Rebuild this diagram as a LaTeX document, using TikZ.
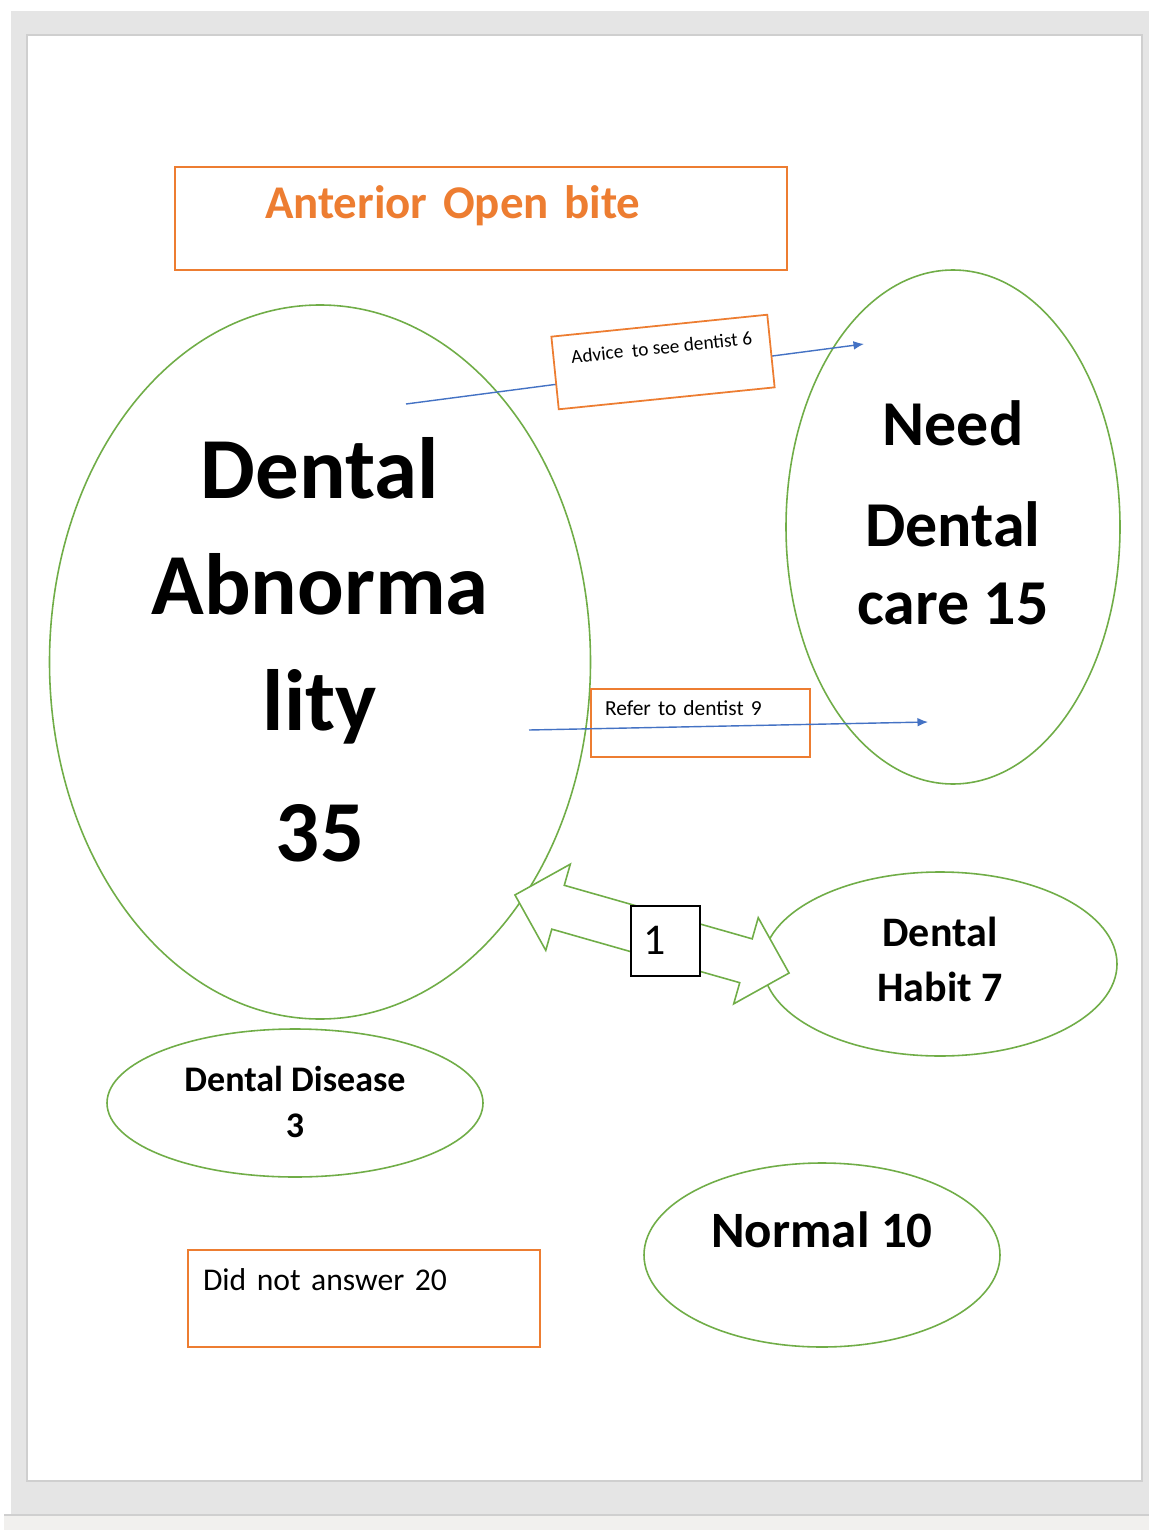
\documentclass[tikz,border=0pt]{standalone}
\usepackage{fontspec}
\setmainfont{Carlito}
\usetikzlibrary{shapes.geometric,shapes.arrows,arrows.meta}

\definecolor{boxorange}{HTML}{ED7D31}
\definecolor{ringgreen}{HTML}{70AD47}
\definecolor{linkblue}{HTML}{4472C4}
\definecolor{framegray}{HTML}{E5E5E5}
\definecolor{edgegray}{HTML}{CFCFCF}
\definecolor{stripgray}{HTML}{F1F0EE}

\newcommand{\pix}{0.02cm}

\tikzstyle{ring}=[ellipse, draw=ringgreen, line width=0.9pt, inner sep=0pt, align=center]
\tikzstyle{tag}=[rectangle, draw=boxorange, line width=1pt, align=left, inner ysep=0pt]
\tikzstyle{link}=[draw=linkblue, line width=0.8pt, -{Latex[length=6pt,width=5pt]}]

\begin{document}
\begin{tikzpicture}[x=\pix, y=-\pix]
            \useasboundingbox (0,0) rectangle (1149,1530);
            \fill[framegray] (11,11) rectangle (1149,1515);
            \fill[stripgray] (4,1515) rectangle (1149,1530);
            \draw[edgegray, line width=1pt] (4,1515) -- (1149,1515);
            \draw[edgegray, fill=white, line width=1.1pt] (27,35) rectangle (1142,1481);

            % multi-line texts sit on their last baseline
            \node[ring, minimum width=541*\pix, minimum height=714*\pix,
                  font=\fontsize{49.5}{66}\selectfont\bfseries,
                  text height=241.3pt, text depth=13.7pt] at (320,662) (abnormal)
                  {Dental\\Abnorma\\lity\\[9pt]35};
            \node[ring, minimum width=334*\pix, minimum height=514*\pix,
                  font=\fontsize{36.4}{51.2}\selectfont\bfseries,
                  text height=128pt, text depth=16.5pt] at (953,527) (care)
                  {Need\\[6.8pt]Dental\\[-6.8pt]care 15};
            \node[ring, minimum width=354*\pix, minimum height=184*\pix,
                  font=\fontsize{23.9}{31.3}\selectfont\bfseries,
                  text height=47.8pt, text depth=4.6pt] at (940,964) (habit)
                  {Dental\\Habit 7};
            \node[ring, minimum width=376*\pix, minimum height=148*\pix,
                  font=\fontsize{20.5}{26.2}\selectfont\bfseries,
                  text height=40.4pt, text depth=0.6pt] at (295,1103) (disease)
                  {Dental Disease\\3};
            \node[ring, minimum width=356*\pix, minimum height=184*\pix,
                  font=\fontsize{29}{35}\selectfont\bfseries,
                  text height=20.5pt, text depth=28.5pt] at (822,1255) (normal)
                  {Normal 10};

            \coordinate (advice-from) at (406,404);
            \coordinate (advice-to) at (864,344);
            \draw[link] (advice-from) -- (advice-to);
            \node[tag, fill=white, rotate=5.8, minimum width=217*\pix, minimum height=73*\pix,
                  inner xsep=0pt, font=\fontsize{11}{13}\selectfont,
                  text height=7.4pt, text depth=16.5pt] at (663,362) (advice)
                  {Advice\ \ to see dentist 6};

            \node[tag, minimum width=219*\pix, minimum height=68*\pix,
                  inner xsep=14*\pix, text width=191*\pix,
                  font=\fontsize{12.2}{15}\selectfont,
                  text height=8pt, text depth=16pt] at (700.5,723) (refer)
                  {Refer to dentist 9};
            \coordinate (refer-from) at (529,730);
            \coordinate (refer-to) at (928,722);
            \draw[link] (refer-from) -- (refer-to);

            \node[double arrow, draw=ringgreen, fill=white, line width=0.9pt,
                  inner xsep=0pt, inner ysep=22*\pix,
                  rotate=-15.9, minimum height=285*\pix, minimum width=88*\pix,
                  double arrow head extend=22*\pix, double arrow tip angle=90] at (652,934) (habit-link) {};
            \node[draw=black, fill=white, line width=1pt, align=left,
                  minimum width=69*\pix, minimum height=70*\pix, inner ysep=0pt,
                  inner xsep=12*\pix, text width=45*\pix,
                  font=\fontsize{25}{30}\selectfont,
                  text height=16pt, text depth=1.1pt] at (665.5,941) (count)
                  {1};

            \node[tag, minimum width=612*\pix, minimum height=103*\pix,
                  inner xsep=90*\pix, text width=432*\pix,
                  font=\fontsize{26.7}{32}\selectfont\bfseries, text=boxorange,
                  text height=17pt, text depth=17pt] at (481,218.5) (title)
                  {Anterior Open bite};
            \node[tag, minimum width=352*\pix, minimum height=97*\pix,
                  inner xsep=15*\pix, text width=322*\pix,
                  font=\fontsize{18}{22}\selectfont,
                  text height=12pt, text depth=21.6pt] at (364,1298.5) (unanswered)
                  {Did not answer 20};
        \end{tikzpicture}
\end{document}
